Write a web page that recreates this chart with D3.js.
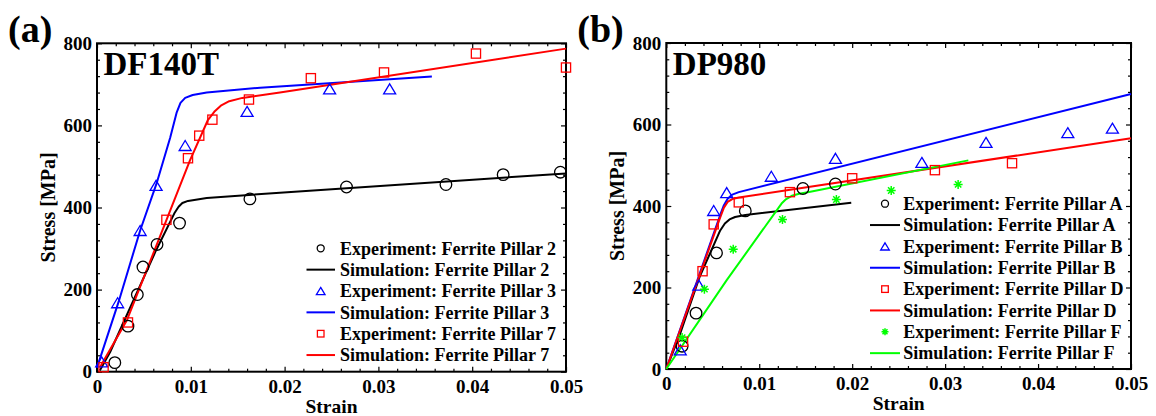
<!DOCTYPE html>
<html>
<head>
<meta charset="utf-8">
<script src="https://cdn.jsdelivr.net/npm/d3@7"></script>
<style>
  body { margin: 0; background: #fff; }
  svg { display: block; }
  svg text { font-family: 'Liberation Serif', 'DejaVu Serif', serif !important; font-weight: bold; }
</style>
</head>
<body>
<svg id="chart" width="1156" height="416"></svg>
<script>
// ---- tick values shared by both panels ----
const strainTicks = [0, 0.01, 0.02, 0.03, 0.04, 0.05];
const stressTicks = [0, 200, 400, 600, 800];

// ---- (a) DF140T : [strain, stress MPa] ----
const dfExp2 = [[0.0019,22],[0.0033,111],[0.0043,188],[0.0049,255],[0.0064,310],[0.0088,362],[0.0163,421],[0.0266,450],[0.0372,456],[0.0433,480],[0.0494,486]];
const dfSim2 = [[0.0003,3],[0.0014,48],[0.0063,296],[0.0083,388],[0.0087,402],[0.0091,411],[0.0097,416],[0.0117,423],[0.0195,436],[0.05,483]];
const dfExp3 = [[0.0005,24],[0.0022,168],[0.0046,344],[0.0063,454],[0.0094,551],[0.0160,634],[0.0248,689],[0.0312,689]];
const dfSim3 = [[0,10],[0.0023,170],[0.0046,344],[0.0064,462],[0.0078,570],[0.0085,632],[0.0089,655],[0.0094,667],[0.0102,674],[0.0117,680],[0.0174,692],[0.0357,719]];
const dfExp7 = [[0.0007,11],[0.0033,120],[0.0074,370],[0.0097,520],[0.0109,575],[0.0123,614],[0.0162,663],[0.0228,715],[0.0306,729],[0.0404,775],[0.05,741]];
const dfSim7 = [[0.0003,10],[0.0032,126],[0.0074,369],[0.0099,514],[0.0118,612],[0.0125,633],[0.0132,648],[0.0141,659],[0.0155,667],[0.0195,680],[0.05,787]];

// ---- (b) DP980 : [strain, stress MPa] ----
const dpExpA = [[0.0017,56],[0.0032,137],[0.0054,285],[0.0085,388],[0.0147,443],[0.0182,454]];
const dpSimA = [[0,0],[0.0015,87],[0.0036,227],[0.0058,340],[0.0063,357],[0.0068,367],[0.0074,373],[0.0085,378],[0.0199,408]];
const dpExpB = [[0.0015,47],[0.0035,206],[0.0051,389],[0.0065,433],[0.0113,473],[0.0182,517],[0.0275,507],[0.0344,556],[0.0432,580],[0.0480,591]];
const dpSimB = [[0,0],[0.0058,378],[0.0062,402],[0.0066,418],[0.0071,428],[0.0078,434],[0.05,675]];
const dpExpD = [[0.0018,67],[0.0039,240],[0.0051,355],[0.0078,409],[0.0133,434],[0.0200,468],[0.0289,488],[0.0372,505]];
const dpSimD = [[0,0],[0.0058,372],[0.0062,396],[0.0066,410],[0.0071,417],[0.0078,421],[0.05,566]];
const dpExpF = [[0.0017,77],[0.0041,196],[0.0072,294],[0.0125,367],[0.0183,416],[0.0242,438],[0.0314,453]];
const dpSimF = [[0,0],[0.0065,218],[0.0124,406],[0.0129,417],[0.0135,425],[0.0143,430],[0.0155,435],[0.0325,512]];

const BLACK = "#000000", BLUE = "#0000ff", RED = "#ff0000", GREEN = "#00ff00";
const FONT = "'Liberation Serif', 'DejaVu Serif', serif";

const svg = d3.select("#chart");
svg.append("rect").attr("width", 1156).attr("height", 416).attr("fill", "#fff");

// ---- marker drawing ----
function marker(g, kind, color, cx, cy, s) {
  if (kind === "circle") {
    g.append("circle").attr("cx", cx).attr("cy", cy).attr("r", s)
      .attr("fill", "none").attr("stroke", color).attr("stroke-width", 1.3);
  } else if (kind === "square") {
    g.append("rect").attr("x", cx - s).attr("y", cy - s).attr("width", 2 * s).attr("height", 2 * s)
      .attr("fill", "none").attr("stroke", color).attr("stroke-width", 1.3);
  } else if (kind === "triangle") {
    const w = s * 1.2, h = s;
    g.append("path").attr("d", `M${cx},${cy - h} L${cx + w},${cy + h} L${cx - w},${cy + h} Z`)
      .attr("fill", "none").attr("stroke", color).attr("stroke-width", 1.3);
  } else if (kind === "star") {
    const d = s * Math.SQRT1_2;
    g.append("path")
      .attr("d", `M${cx - s},${cy} L${cx + s},${cy} M${cx},${cy - s} L${cx},${cy + s} ` +
                 `M${cx - d},${cy - d} L${cx + d},${cy + d} M${cx - d},${cy + d} L${cx + d},${cy - d}`)
      .attr("fill", "none").attr("stroke", color).attr("stroke-width", 1.5);
  }
}

const markerSize = { circle: 5.8, square: 4.6, triangle: 5, star: 4.5 };
const legendSize = { circle: 3.5, square: 3.3, triangle: 3.6, star: 3.5 };

function label(g, x, y, size, str) {
  return g.append("text").attr("x", x).attr("y", y)
    .style("font-family", FONT).style("font-weight", "bold").style("font-size", size + "px")
    .attr("fill", "#000").text(str);
}

function panel(cfg) {
  const x = d3.scaleLinear().domain([0, 0.05]).range([cfg.x0, cfg.x1]);
  const y = d3.scaleLinear().domain([0, 800]).range([cfg.y1, cfg.y0]);
  const g = svg.append("g");

  const fmt = d => d === 0 ? "0" : d3.format(".2f")(d);
  const minorX = d3.range(0, 26).map(i => +(i * 0.002).toFixed(3)).filter(v => !strainTicks.some(t => Math.abs(t - v) < 1e-9));
  const minorY = d3.range(0, 21).map(i => i * 40).filter(v => v % 200 !== 0);

  const styleAxis = sel => {
    sel.select(".domain").remove();
    sel.selectAll("line").attr("stroke", "#000").attr("stroke-width", 1.2);
    sel.selectAll("text").attr("fill", "#000")
      .style("font-family", FONT).style("font-weight", "bold").style("font-size", "19px");
  };

  // bottom and left: labelled major ticks + minor ticks, all pointing inward
  g.append("g").attr("transform", `translate(0,${cfg.y1})`)
    .call(d3.axisBottom(x).tickValues(strainTicks).tickFormat(fmt).tickSize(-5).tickPadding(8)).call(styleAxis);
  g.append("g").attr("transform", `translate(0,${cfg.y1})`)
    .call(d3.axisBottom(x).tickValues(minorX).tickFormat("").tickSize(-3)).call(styleAxis);
  g.append("g").attr("transform", `translate(${cfg.x0},0)`)
    .call(d3.axisLeft(y).tickValues(stressTicks).tickSize(-5).tickPadding(5)).call(styleAxis);
  g.append("g").attr("transform", `translate(${cfg.x0},0)`)
    .call(d3.axisLeft(y).tickValues(minorY).tickFormat("").tickSize(-3)).call(styleAxis);
  // mirrored ticks on top and right
  g.append("g").attr("transform", `translate(0,${cfg.y0})`)
    .call(d3.axisTop(x).tickValues(strainTicks).tickFormat("").tickSize(-5)).call(styleAxis);
  g.append("g").attr("transform", `translate(0,${cfg.y0})`)
    .call(d3.axisTop(x).tickValues(minorX).tickFormat("").tickSize(-3)).call(styleAxis);
  g.append("g").attr("transform", `translate(${cfg.x1},0)`)
    .call(d3.axisRight(y).tickValues(stressTicks).tickFormat("").tickSize(-5)).call(styleAxis);
  g.append("g").attr("transform", `translate(${cfg.x1},0)`)
    .call(d3.axisRight(y).tickValues(minorY).tickFormat("").tickSize(-3)).call(styleAxis);

  // frame
  g.append("rect").attr("x", cfg.x0).attr("y", cfg.y0)
    .attr("width", cfg.x1 - cfg.x0).attr("height", cfg.y1 - cfg.y0)
    .attr("fill", "none").attr("stroke", "#000").attr("stroke-width", 2);

  // axis titles
  label(g, (cfg.x0 + cfg.x1) / 2, cfg.y1 + 41, 19.5, "Strain").attr("text-anchor", "middle");
  label(g, 0, 0, 20, "Stress [MPa]")
    .attr("transform", `translate(${cfg.x0 - 49},${(cfg.y0 + cfg.y1) / 2}) rotate(-90)`)
    .attr("dy", "0.35em").attr("text-anchor", "middle");

  // panel letter and material name
  label(g, cfg.x0 - 89, 42, 38, cfg.letter);
  label(g, cfg.x0 + 6.5, 75, 33, cfg.name);

  // simulation curves
  const line = d3.line().x(d => x(d[0])).y(d => y(d[1]));
  const plot = g.append("g");
  cfg.series.forEach(s => {
    plot.append("path").datum(s.sim).attr("d", line)
      .attr("fill", "none").attr("stroke", s.color).attr("stroke-width", 2)
      .attr("stroke-linejoin", "round");
  });
  // experimental points
  cfg.series.forEach(s => {
    s.exp.forEach(d => marker(plot, s.kind, s.color, x(d[0]), y(d[1]), markerSize[s.kind]));
  });

  // legend
  const lg = g.append("g");
  cfg.series.forEach((s, i) => {
    const yE = cfg.legY + (2 * i) * cfg.legStep;
    const yS = cfg.legY + (2 * i + 1) * cfg.legStep;
    marker(lg, s.kind, s.color, cfg.legSym, yE, legendSize[s.kind]);
    label(lg, cfg.legText, yE, 18, "Experiment: Ferrite Pillar " + s.label).attr("dy", "0.35em");
    lg.append("line").attr("x1", cfg.legL0).attr("x2", cfg.legL1).attr("y1", yS).attr("y2", yS)
      .attr("stroke", s.color).attr("stroke-width", 2);
    label(lg, cfg.legText, yS, 18, "Simulation: Ferrite Pillar " + s.label).attr("dy", "0.35em");
  });
}

panel({
  x0: 97, x1: 566, y0: 43.3, y1: 371.7, letter: "(a)", name: "DF140T",
  legY: 248.3, legStep: 21.35, legSym: 320.7, legL0: 306.5, legL1: 335, legText: 340,
  series: [
    { label: "2", color: BLACK, kind: "circle", exp: dfExp2, sim: dfSim2 },
    { label: "3", color: BLUE, kind: "triangle", exp: dfExp3, sim: dfSim3 },
    { label: "7", color: RED, kind: "square", exp: dfExp7, sim: dfSim7 }
  ]
});

panel({
  x0: 666.3, x1: 1131, y0: 43, y1: 369, letter: "(b)", name: "DP980",
  legY: 203.7, legStep: 21.35, legSym: 885, legL0: 870, legL1: 900, legText: 903.3,
  series: [
    { label: "A", color: BLACK, kind: "circle", exp: dpExpA, sim: dpSimA },
    { label: "B", color: BLUE, kind: "triangle", exp: dpExpB, sim: dpSimB },
    { label: "D", color: RED, kind: "square", exp: dpExpD, sim: dpSimD },
    { label: "F", color: GREEN, kind: "star", exp: dpExpF, sim: dpSimF }
  ]
});
</script>
</body>
</html>
